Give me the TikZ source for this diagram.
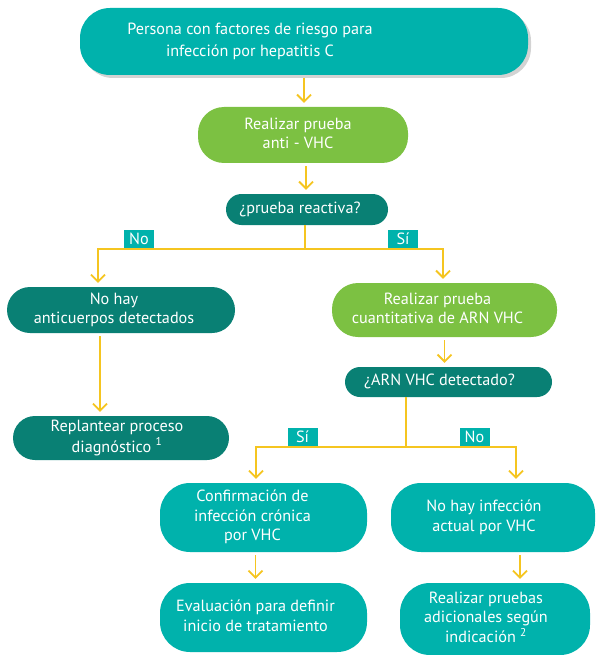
\documentclass[tikz,border=0pt]{standalone}
\usepackage{fontspec}
\setmainfont{PT Sans}
\usetikzlibrary{arrows.meta,shadows}
\definecolor{lightteal}{RGB}{0,178,172}
\definecolor{darkteal}{RGB}{9,128,116}
\definecolor{leafgreen}{RGB}{124,193,66}
\definecolor{arrowyellow}{RGB}{245,197,32}
\newcommand{\lns}[2][16]{\begin{tabular}{@{}c@{}}#2\end{tabular}\hspace*{#1pt}}

\begin{document}
\begin{tikzpicture}[x=1pt, y=-1pt,
  every node/.style={font=\fontsize{16.2}{19.5}\selectfont, text=white, inner sep=0pt},
  tealbox/.style={fill=lightteal, rounded corners=#1}, tealbox/.default=30pt,
  darkbox/.style={fill=darkteal, rounded corners=#1}, darkbox/.default=22pt,
  greenbox/.style={fill=leafgreen, rounded corners=#1}, greenbox/.default=26pt,
  tag/.style={fill=lightteal, minimum width=30pt, minimum height=18pt, anchor=south},
  joint/.style={draw=arrowyellow, line width=1.8pt},
  arr/.style={joint, shorten >=4pt, -{Straight Barb[length=7pt,width=14pt]}},
  gap/.style={shorten <=3pt}]
  \useasboundingbox (0,0) rectangle (595,655);

  \node[tealbox, minimum width=448pt, minimum height=67pt,
        drop shadow={shadow xshift=3pt, shadow yshift=-3pt, opacity=.35}]
    (risk) at (304,41.5) {\lns[108]{Persona con factores de riesgo para\\[3pt]infección por hepatitis C}};
  \node[greenbox, minimum width=210pt, minimum height=56pt] (antivhc) at (303,135) {\lns[10]{Realizar prueba\\anti - VHC}};
  \node[darkbox=15.5pt, minimum width=162pt, minimum height=31pt] (reactiva) at (307,209.5) {\lns[14]{¿prueba reactiva?}};

  \node[darkbox=23pt, minimum width=228pt, minimum height=46pt] (noac) at (121,310) {\lns[14]{No hay\\anticuerpos detectados}};
  \node[greenbox, minimum width=225pt, minimum height=54pt] (arn) at (444.5,310) {\lns[14]{Realizar prueba\\cuantitativa de ARN VHC}};
  \node[darkbox=22pt, minimum width=216pt, minimum height=44pt] (replantear) at (121,438) {\lns[8]{Replantear proceso\\diagnóstico \textsuperscript{1}}};
  \node[darkbox=15pt, minimum width=207pt, minimum height=30pt] (arndet) at (448.5,382) {\lns[18]{¿ARN VHC detectado?}};

  \node[tealbox, minimum width=207pt, minimum height=69pt] (cronica) at (263.5,517.5) {\lns[22]{Confirmación de\\infección crónica\\por VHC}};
  \node[tealbox, minimum width=204pt, minimum height=69pt] (noinf) at (493,517.5) {\lns[18]{No hay infección\\actual por VHC}};
  \node[tealbox, minimum width=207pt, minimum height=69pt] (evaluacion) at (263.5,617.5) {\lns[16]{Evaluación para definir\\inicio de tratamiento}};
  \node[tealbox, minimum width=190pt, minimum height=72pt] (adicionales) at (495,619) {\lns[18]{Realizar pruebas\\adicionales según\\indicación \textsuperscript{2}}};

  % arrows
  \draw[arr, gap] (risk.south) -- (risk.south |- antivhc.north);
  \draw[arr, gap] ([xshift=3pt]antivhc.south) -- ([xshift=3pt]antivhc.south |- reactiva.north);

  \coordinate (fork1) at (305,249);
  \draw[joint] (reactiva.south -| fork1) -- (fork1);
  \draw[arr] (fork1) -| ([xshift=-23pt]noac.north);
  \draw[arr] (fork1) -| ([xshift=-1.5pt]arn.north);
  \node[tag] (no1) at (139,248) {No};
  \node[tag] (si1) at (403,248) {Sí};

  \draw[arr, gap] ([xshift=-21pt]noac.south) -- ([xshift=-21pt]noac.south |- replantear.north);
  \draw[arr, gap] (arn.south) -- (arn.south |- arndet.north);

  \coordinate (fork2) at (406,447);
  \draw[joint] (fork2 |- arndet.south) -- (fork2);
  \draw[arr] (fork2) -| ([xshift=-7.5pt]cronica.north);
  \draw[arr] (fork2) -| ([xshift=23pt]noinf.north);
  \node[tag] (si2) at (302.5,446) {Sí};
  \node[tag] (no2) at (474.5,446) {No};

  \draw[arr, gap] ([xshift=-8pt]cronica.south) -- ([xshift=-8pt]cronica.south |- evaluacion.north);
  \draw[arr, gap] ([xshift=27pt]noinf.south) -- ([xshift=27pt]noinf.south |- adicionales.north);
\end{tikzpicture}
\end{document}
